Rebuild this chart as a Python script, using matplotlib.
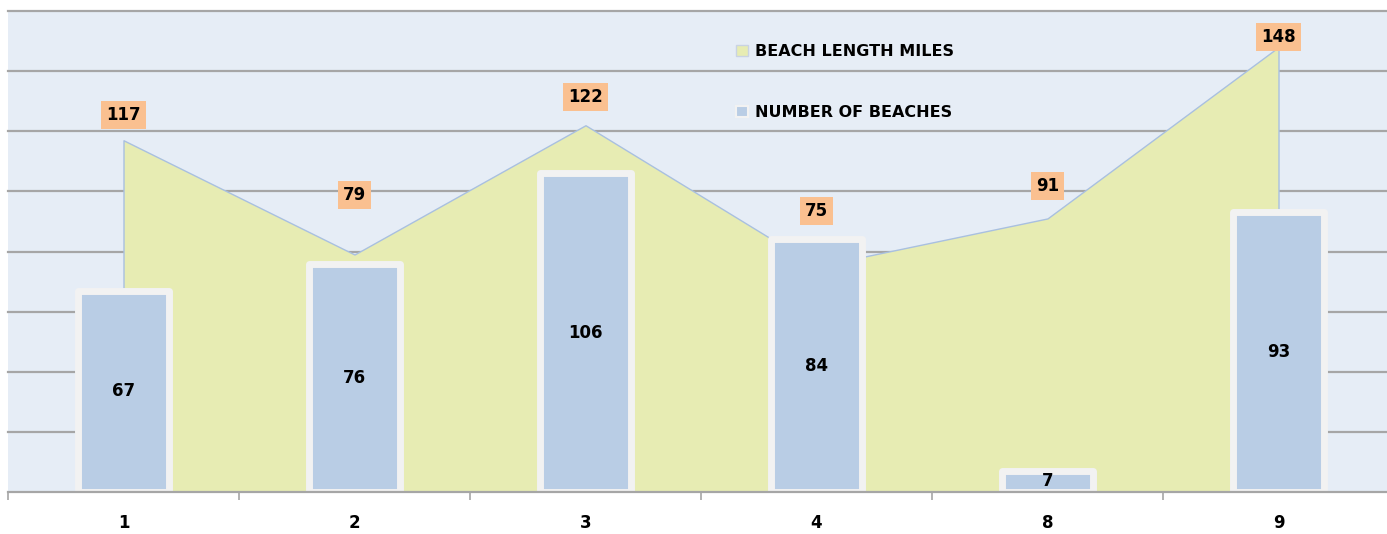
import matplotlib
matplotlib.use("Agg")
import matplotlib.pyplot as plt
from matplotlib.patches import Patch
import numpy as np

categories = ["1", "2", "3", "4", "8", "9"]
beach_length_miles = [117, 79, 122, 75, 91, 148]
number_of_beaches = [67, 76, 106, 84, 7, 93]

# label offsets (points) above area points
area_label_offsets = [18, 43, 20, 40, 23, 7]

W, H = 1387, 534
fig = plt.figure(figsize=(W / 100, H / 100), dpi=100)
fig.patch.set_facecolor("white")
ax = fig.add_axes([8 / W, (H - 492) / H, (1394 - 8) / W, (492 - 11) / H])
ax.set_facecolor("#e6edf6")

font = "DejaVu Sans"
x = np.arange(len(categories))

ax.set_xlim(-0.5, len(categories) - 0.5)
ax.set_ylim(0, 160)

# gridlines (behind everything)
ax.set_yticks(np.arange(20, 161, 20))
ax.tick_params(axis="y", left=False, labelleft=False)
for gy in np.arange(20, 161, 20):
    ax.axhline(gy, color="#a6a6a6", linewidth=1.6, zorder=0.5, clip_on=False)

# area
ax.fill_between(x, beach_length_miles, 0, facecolor="#e7ecb3",
                edgecolor="#a9c0e0", linewidth=1.0, zorder=2,
                label="BEACH LENGTH MILES")

# bars
bars = ax.bar(x, number_of_beaches, width=0.398, color="#b9cde5",
              edgecolor="#f2f2f2", linewidth=5, zorder=3,
              label="NUMBER OF BEACHES")
for b in bars:
    b.set_joinstyle("round")

# bar labels
for xi, v in zip(x, number_of_beaches):
    ax.text(xi, v / 2, str(v), ha="center", va="center", fontsize=12,
            fontweight="bold", family=font, color="black", zorder=5)

# area labels
for xi, v, off in zip(x, beach_length_miles, area_label_offsets):
    ax.annotate(str(v), (xi, v), xytext=(0, off), textcoords="offset points",
                ha="center", va="center", fontsize=12, fontweight="bold",
                family=font, color="black", zorder=6,
                bbox=dict(boxstyle="square,pad=0.3", facecolor="#fac090",
                          edgecolor="none"))

# spines
for s in ["top", "right", "left"]:
    ax.spines[s].set_visible(False)
ax.spines["bottom"].set_color("#a6a6a6")
ax.spines["bottom"].set_linewidth(1.6)
ax.spines["bottom"].set_zorder(7)

ax.set_xticks(x)
ax.set_xticklabels(categories, fontsize=12, fontweight="bold", family=font)
ax.tick_params(axis="x", which="major", length=0, pad=16)
ax.set_xticks(np.arange(-0.5, len(categories), 1), minor=True)
ax.tick_params(axis="x", which="minor", length=6, width=1.2, color="#a6a6a6",
               direction="out")

handles = [Patch(facecolor="#e7ecb3", edgecolor="#c9d3e3", linewidth=1),
           Patch(facecolor="#b9cde5", edgecolor="#f2f2f2", linewidth=1.5)]
labels = ["BEACH LENGTH MILES", "NUMBER OF BEACHES"]
leg = fig.legend(handles, labels, loc="upper left",
                 bbox_to_anchor=(722 / W, (H - 30) / H),
                 frameon=False, handlelength=0.7, handleheight=0.7,
                 handletextpad=0.45, labelspacing=2.85,
                 prop=dict(family=font, weight="bold", size=11.5))

fig.savefig("out.png", dpi=100)
